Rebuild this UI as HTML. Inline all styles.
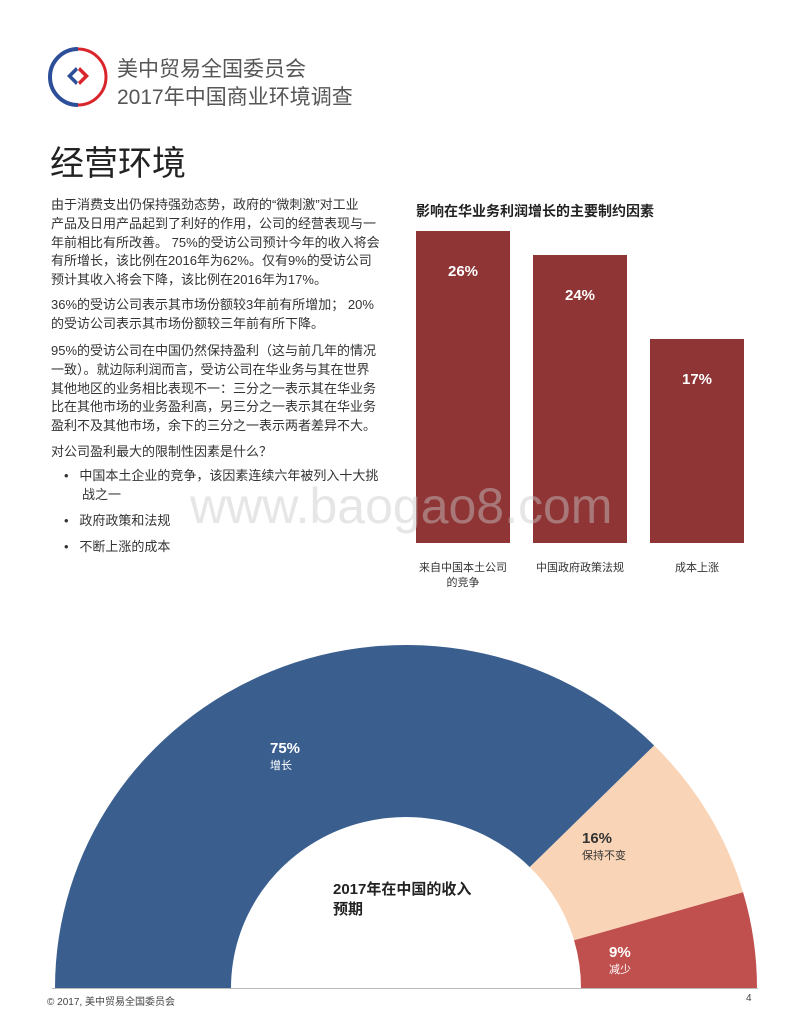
<!DOCTYPE html>
<html><head><meta charset="utf-8"><style>
body{margin:0;width:800px;height:1036px;background:#fff;position:relative;overflow:hidden;font-family:"Liberation Sans","Noto Sans CJK SC",sans-serif;color:#333}
.a{position:absolute;white-space:nowrap}
.p{position:absolute;left:51px;font-size:13px;line-height:18.8px;white-space:nowrap;color:#333}
</style></head><body>
<svg class="a" style="left:46px;top:45px" width="64" height="64" viewBox="0 0 64 64">
<path d="M32 4 A28 28 0 0 0 32 60" fill="none" stroke="#2d4f9a" stroke-width="4"/>
<path d="M32 4 A28 28 0 0 1 32 60" fill="none" stroke="#d9262c" stroke-width="3"/>
<path d="M30 22 L21 31 L30 40 L32 37 L26 31 L32 25Z" fill="#2d4f9a"/>
<path d="M34 22 L43 31 L34 40 L32 37 L38 31 L32 25Z" fill="#d9262c"/>
</svg>
<div class="a" style="left:117px;top:57px;font-size:21px;color:#555;line-height:26px">美中贸易全国委员会</div>
<div class="a" style="left:117px;top:85px;font-size:21px;color:#555;line-height:26px">2017年中国商业环境调查</div>
<div class="a" style="left:50px;top:142px;font-size:34px;color:#222;line-height:44px">经营环境</div>

<div class="p" style="top:196px">由于消费支出仍保持强劲态势，政府的“微刺激”对工业<br>产品及日用产品起到了利好的作用，公司的经营表现与一<br>年前相比有所改善。 75%的受访公司预计今年的收入将会<br>有所增长，该比例在2016年为62%。仅有9%的受访公司<br>预计其收入将会下降，该比例在2016年为17%。</div>
<div class="p" style="top:296px">36%的受访公司表示其市场份额较3年前有所增加； 20%<br>的受访公司表示其市场份额较三年前有所下降。</div>
<div class="p" style="top:342px">95%的受访公司在中国仍然保持盈利（这与前几年的情况<br>一致）。就边际利润而言，受访公司在华业务与其在世界<br>其他地区的业务相比表现不一：三分之一表示其在华业务<br>比在其他市场的业务盈利高，另三分之一表示其在华业务<br>盈利不及其他市场，余下的三分之一表示两者差异不大。</div>
<div class="p" style="top:443px">对公司盈利最大的限制性因素是什么？</div>
<div class="p" style="top:467px;left:64px">•&nbsp;&nbsp;&nbsp;中国本土企业的竞争，该因素连续六年被列入十大挑<br><span style="padding-left:18px">战之一</span></div>
<div class="p" style="top:512px;left:64px">•&nbsp;&nbsp;&nbsp;政府政策和法规</div>
<div class="p" style="top:538px;left:64px">•&nbsp;&nbsp;&nbsp;不断上涨的成本</div>

<div class="a" style="left:416px;top:201px;font-size:14px;font-weight:bold;color:#222">影响在华业务利润增长的主要制约因素</div>
<svg id="bars" class="a" style="left:0;top:0" width="800" height="600"></svg>
<div class="a" style="left:190px;top:478px;font-size:50px;color:rgba(200,200,200,0.45);line-height:56px">www.baogao8.com</div>

<svg id="donut" class="a" style="left:0;top:0" width="800" height="1036"></svg>
<div class="a" style="left:333px;top:880px;font-size:15px;font-weight:bold;color:#222;line-height:20px">2017年在中国的收入<br>预期</div>

<div class="a" style="left:52px;top:988px;width:706px;height:1px;background:#bbb"></div>
<div class="a" style="left:47px;top:993px;font-size:10px;color:#444">© 2017, 美中贸易全国委员会</div>
<div class="a" style="left:746px;top:993px;font-size:10px;color:#444">4</div>

<script>
const barCats=["来自中国本土公司的竞争","中国政府政策法规","成本上涨"];
const barLabels=[["来自中国本土公司","的竞争"],["中国政府政策法规"],["成本上涨"]];
const barVals=[26,24,17];
const pieCats=["增长","保持不变","减少"];
const pieVals=[75,16,9];
const NS="http://www.w3.org/2000/svg";
function mk(t,a,p){const e=document.createElementNS(NS,t);for(const k in a)e.setAttribute(k,a[k]);p.appendChild(e);return e;}
const bs=document.getElementById('bars');
const base=543, pxPer=12, x0=416, bw=94, step=117;
const yS=v=>base-v*pxPer;
barVals.forEach((v,i)=>{
  const x=x0+i*step;
  const r=mk('rect',{x:x,y:yS(v),width:bw,height:base-yS(v),fill:'#8f3535'},bs);
  
  
  const t=mk('text',{x:x+bw/2,y:yS(v)+45,'text-anchor':'middle','font-size':15,'font-weight':'bold',fill:'#fff','font-family':'Liberation Sans, sans-serif'},bs);
  t.textContent=v+'%';
  
  
  barLabels[i].forEach((ln,j)=>{
    const c=mk('text',{x:x+bw/2,y:571+j*15,'text-anchor':'middle','font-size':11,fill:'#333','font-family':'Liberation Sans, Noto Sans CJK SC, sans-serif'},bs);
    c.textContent=ln;
    
    
  });
});
const ds=document.getElementById('donut');
const cx=406, cy=988, Rx=351, Ry=343, rx0=175, ry0=171;
const cols=['#3a5f8f','#f9d4b6','#c0504d'];
const txtCols=['#fff','#333','#fff'];
const total=pieVals.reduce((a,b)=>a+b,0);
let acc=0;
const pt=(ang,rx,ry)=>[cx-rx*Math.cos(ang),cy-ry*Math.sin(ang)];
const labelPos=[[270,753],[582,843],[609,957]];
pieVals.forEach((v,i)=>{
  const a0=acc/total*Math.PI, a1=(acc+v)/total*Math.PI; acc+=v;
  const [x1,y1]=pt(a0,Rx,Ry),[x2,y2]=pt(a1,Rx,Ry),[x3,y3]=pt(a1,rx0,ry0),[x4,y4]=pt(a0,rx0,ry0);
  const p=mk('path',{d:`M${x1} ${y1} A${Rx} ${Ry} 0 0 1 ${x2} ${y2} L${x3} ${y3} A${rx0} ${ry0} 0 0 0 ${x4} ${y4}Z`,fill:cols[i]},ds);
  
  
  const [lx,ly]=labelPos[i];
  const t=mk('text',{x:lx,y:ly,'font-size':15,'font-weight':'bold',fill:txtCols[i],'font-family':'Liberation Sans, sans-serif'},ds);
  t.textContent=v+'%';
  
  
  const c=mk('text',{x:lx,y:ly+16,'font-size':11,fill:txtCols[i],'font-family':'Liberation Sans, Noto Sans CJK SC, sans-serif'},ds);
  c.textContent=pieCats[i];
  
  
});
</script>
</body></html>
